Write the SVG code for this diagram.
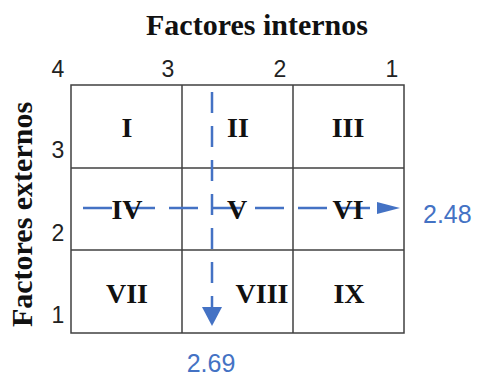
<svg xmlns="http://www.w3.org/2000/svg" width="480" height="378" viewBox="0 0 480 378">
<style>
.title{font-family:"Liberation Serif",serif;font-weight:bold;font-size:30px;fill:#111}
.rom{font-family:"Liberation Serif",serif;font-weight:bold;font-size:28px;fill:#111;text-anchor:middle}
.num{font-family:"Liberation Sans",sans-serif;font-size:23px;fill:#222;text-anchor:middle}
.val{font-family:"Liberation Sans",sans-serif;font-size:25px;fill:#4472C4}
.grid{stroke:#404040;stroke-width:1.5;fill:none}
.dash{stroke:#4472C4;stroke-width:2.5;fill:none}
</style>
<rect width="480" height="378" fill="#fff"/>
<g id="axis-labels">
<text class="title" x="257" y="35" text-anchor="middle">Factores internos</text>
<text class="title" transform="translate(32,214.5) rotate(-90)" text-anchor="middle">Factores externos</text>
<text class="num" x="58" y="77">4</text>
<text class="num" x="168" y="77">3</text>
<text class="num" x="280" y="77">2</text>
<text class="num" x="392" y="77">1</text>
<text class="num" x="58" y="158">3</text>
<text class="num" x="58" y="241">2</text>
<text class="num" x="58" y="323">1</text>
</g>
<g id="grid">
<rect class="grid" x="71" y="85" width="333" height="248"/>
<line class="grid" x1="182" y1="85" x2="182" y2="333"/>
<line class="grid" x1="293" y1="85" x2="293" y2="333"/>
<line class="grid" x1="71" y1="168" x2="404" y2="168"/>
<line class="grid" x1="71" y1="250" x2="404" y2="250"/>
</g>
<g id="connectors">
<line class="dash" x1="83" y1="208" x2="378" y2="208" stroke-dasharray="29 14"/>
<polygon points="377,202 400,208 377,214" fill="#4472C4"/>
<line class="dash" x1="212" y1="92" x2="212" y2="308" stroke-dasharray="21 13"/>
<polygon points="202,307 222,307 212,326" fill="#4472C4"/>
</g>
<g id="cell-I"><text class="rom" x="127" y="137">I</text></g>
<g id="cell-II"><text class="rom" x="238" y="137">II</text></g>
<g id="cell-III"><text class="rom" x="348" y="137">III</text></g>
<g id="cell-IV"><text class="rom" x="127" y="219">IV</text></g>
<g id="cell-V"><text class="rom" x="237" y="219">V</text></g>
<g id="cell-VI"><text class="rom" x="348" y="219">VI</text></g>
<g id="cell-VII"><text class="rom" x="127" y="303">VII</text></g>
<g id="cell-VIII"><text class="rom" x="262" y="303">VIII</text></g>
<g id="cell-IX"><text class="rom" x="349" y="303">IX</text></g>
<g id="values">
<text class="val" x="423" y="223">2.48</text>
<text class="val" x="211" y="372" text-anchor="middle">2.69</text>
</g>
</svg>
